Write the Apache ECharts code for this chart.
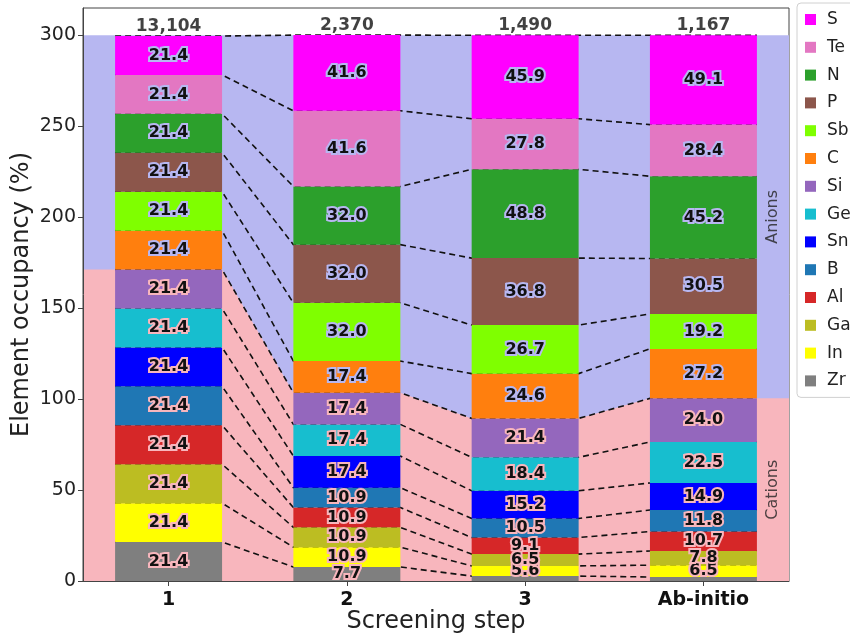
<!DOCTYPE html>
<html>
<head>
<meta charset="utf-8">
<script src="https://cdn.jsdelivr.net/npm/echarts@6/dist/echarts.min.js"></script>
<style>
  html, body { margin: 0; padding: 0; background: #ffffff; }
  #chart { width: 850px; height: 636px; }
</style>
</head>
<body>
<div id="chart"></div>
<script>
// Screening steps and number of compounds surviving each step
const steps = ['1', '2', '3', 'Ab-initio'];
const compoundCounts = [13104, 2370, 1490, 1167];

// Element occupancy (%) per step, stacked bottom -> top
const elements = ['Zr', 'In', 'Ga', 'Al', 'B', 'Sn', 'Ge', 'Si', 'C', 'Sb', 'P', 'N', 'Te', 'S'];
const cationElements = ['Zr', 'In', 'Ga', 'Al', 'B', 'Sn', 'Ge', 'Si'];
const Zr = [21.4, 7.7, 2.7, 2.2];
const In = [21.4, 10.9, 5.6, 6.5];
const Ga = [21.4, 10.9, 6.5, 7.8];
const Al = [21.4, 10.9, 9.1, 10.7];
const B  = [21.4, 10.9, 10.5, 11.8];
const Sn = [21.4, 17.4, 15.2, 14.9];
const Ge = [21.4, 17.4, 18.4, 22.5];
const Si = [21.4, 17.4, 21.4, 24.0];
const C  = [21.4, 17.4, 24.6, 27.2];
const Sb = [21.4, 32.0, 26.7, 19.2];
const P  = [21.4, 32.0, 36.8, 30.5];
const N  = [21.4, 32.0, 48.8, 45.2];
const Te = [21.4, 41.6, 27.8, 28.4];
const S  = [21.4, 41.6, 45.9, 49.1];
const values = { Zr, In, Ga, Al, B, Sn, Ge, Si, C, Sb, P, N, Te, S };

const yTicks = [0, 50, 100, 150, 200, 250, 300];

const colors = {
  S: '#ff00ff', Te: '#e377c2', N: '#2ca02c', P: '#8c564b', Sb: '#7fff00',
  C: '#ff7f0e', Si: '#9467bd', Ge: '#17becf', Sn: '#0000ff', B: '#1f77b4',
  Al: '#d62728', Ga: '#bcbd22', In: '#ffff00', Zr: '#7f7f7f'
};
const anionBg = '#b7b7f1';
const cationBg = '#f8b6bd';
const FONT = 'DejaVu Sans';

const X_MIN = -0.48, X_MAX = 3.48;   // x-axis limits around the four bars
const HALF_BAR = 0.3;                // bars are 0.6 wide on the step axis
const Y_MAX = 315;

// cumulative tops per element level, per step
const cumulative = [];
{
  const run = steps.map(() => 0);
  elements.forEach(el => {
    values[el].forEach((v, i) => { run[i] += v; });
    cumulative.push(run.slice());
  });
}
const cationTop = cumulative[cationElements.length - 1];
const totals = cumulative[cumulative.length - 1];

// background regions: anions above the cation boundary, cations below
const boundary = [[X_MIN, cationTop[0]]];
steps.forEach((_, i) => {
  boundary.push([i - HALF_BAR, cationTop[i]], [i + HALF_BAR, cationTop[i]]);
});
boundary.push([X_MAX, cationTop[cationTop.length - 1]]);

const series = [];
series.push({
  type: 'line', silent: true, z: 0, showSymbol: false, symbol: 'none',
  data: [[X_MIN, 300], [X_MAX, 300]],
  lineStyle: { width: 0 }, areaStyle: { color: anionBg, opacity: 1 }
});
series.push({
  type: 'line', silent: true, z: 0, showSymbol: false, symbol: 'none',
  data: boundary,
  lineStyle: { width: 0 }, areaStyle: { color: cationBg, opacity: 1 }
});

// dashed connectors following each element boundary from step to step
cumulative.forEach(level => {
  const pts = [];
  level.forEach((v, i) => { pts.push([i - HALF_BAR, v], [i + HALF_BAR, v]); });
  series.push({
    type: 'line', silent: true, z: 1, showSymbol: false, symbol: 'none',
    data: pts,
    lineStyle: { color: '#111', width: 1.6, type: [6, 4] }
  });
});

// stacked bars; rows are [occupancy, step] so the occupancy column is the stacked one
elements.forEach(el => {
  const isCation = cationElements.includes(el);
  series.push({
    name: el,
    type: 'bar',
    stack: 'occupancy',
    barWidth: '60%',
    z: 2,
    encode: { x: 1, y: 0 },
    itemStyle: { color: colors[el] },
    data: values[el].map((v, i) => [v, i]),
    label: {
      show: true,
      position: 'inside',
      fontFamily: FONT,
      fontSize: 16,
      fontWeight: 'bold',
      color: '#111',
      textBorderColor: isCation ? cationBg : anionBg,
      textBorderWidth: 4,
      formatter: p => (p.value[0] >= 4 ? p.value[0].toFixed(1) : '')
    }
  });
});

// compound counts above each bar
series.push({
  type: 'scatter', silent: true, z: 3, symbolSize: 0,
  data: totals.map((t, i) => [i, t]),
  label: {
    show: true, position: 'top', distance: 1,
    fontFamily: FONT, fontSize: 17, fontWeight: 'bold', color: '#111',
    formatter: p => compoundCounts[p.dataIndex].toLocaleString('en-US')
  }
});

// region captions at the right of the last bar
const lastCation = cationTop[cationTop.length - 1];
series.push({
  type: 'scatter', silent: true, z: 3, symbolSize: 0,
  data: [
    { name: 'Anions', value: [(3 + HALF_BAR + X_MAX) / 2, (300 + lastCation) / 2] },
    { name: 'Cations', value: [(3 + HALF_BAR + X_MAX) / 2, lastCation / 2] }
  ],
  label: {
    show: true, position: 'inside', rotate: 90,
    fontFamily: FONT, fontSize: 16, color: '#222',
    formatter: p => p.name
  }
});

const chart = echarts.init(document.getElementById('chart'), null, { renderer: 'canvas' });
chart.setOption({
  backgroundColor: '#ffffff',
  animation: false,
  grid: {
    left: 83, right: 61, top: 8, bottom: 55,
    outerBoundsMode: 'none',
    containLabel: false,
    show: true, borderColor: '#444', borderWidth: 1, backgroundColor: 'transparent'
  },
  legend: {
    data: elements.slice().reverse(),
    orient: 'vertical',
    left: 797, top: 3,
    padding: [8, 8, 8, 8],
    itemWidth: 11, itemHeight: 11, itemGap: 10.8,
    icon: 'rect',
    backgroundColor: '#ffffff',
    borderColor: '#d0d0d0', borderWidth: 1, borderRadius: 4,
    selectedMode: false,
    textStyle: { fontFamily: FONT, fontSize: 17, color: '#222', lineHeight: 17, padding: [0, 0, 0, 6] }
  },
  xAxis: {
    type: 'value',
    min: X_MIN, max: X_MAX,
    name: 'Screening step',
    nameLocation: 'middle',
    nameGap: 29,
    nameMoveOverlap: false,
    nameTextStyle: { fontFamily: FONT, fontSize: 24, color: '#222' },
    axisLine: { show: true, onZero: false, lineStyle: { color: '#444' } },
    axisTick: { show: true, length: 5, customValues: steps.map((_, i) => i), lineStyle: { color: '#444' } },
    axisLabel: {
      customValues: steps.map((_, i) => i),
      formatter: v => steps[Math.round(v)],
      fontFamily: FONT, fontSize: 19, fontWeight: 'bold', color: '#111', margin: 10
    },
    splitLine: { show: false }
  },
  yAxis: {
    type: 'value',
    min: 0, max: Y_MAX,
    name: 'Element occupancy (%)',
    nameLocation: 'middle',
    nameGap: 49,
    nameMoveOverlap: false,
    nameTextStyle: { fontFamily: FONT, fontSize: 24, color: '#222' },
    axisLine: { show: true, onZero: false, lineStyle: { color: '#444' } },
    axisTick: { show: true, length: 5, customValues: yTicks, lineStyle: { color: '#444' } },
    axisLabel: {
      customValues: yTicks,
      fontFamily: FONT, fontSize: 19, color: '#222', margin: 7
    },
    splitLine: { show: false }
  },
  series: series
});
</script>
</body>
</html>
